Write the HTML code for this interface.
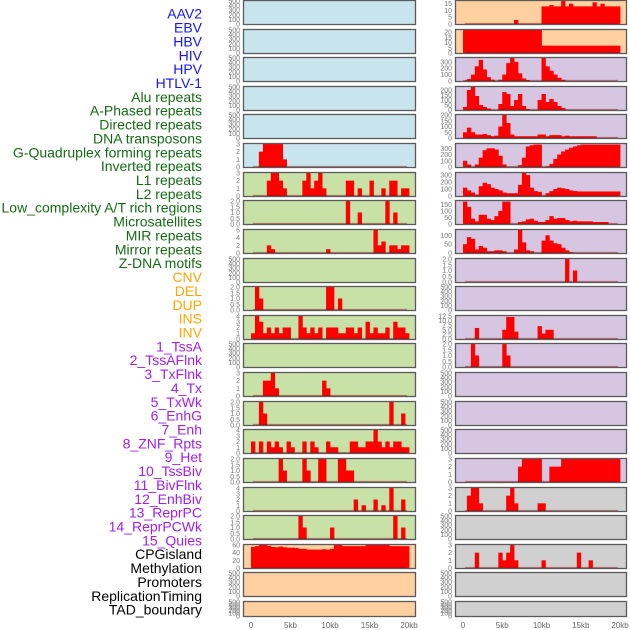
<!DOCTYPE html>
<html><head><meta charset="utf-8"><style>
html,body{margin:0;padding:0;background:#fff;}
svg{display:block;font-family:"Liberation Sans",sans-serif;}
</style></head><body>
<svg id="chart" width="630" height="630" viewBox="0 0 630 630"></svg>
<script>
const labels=["AAV2","EBV","HBV","HIV","HPV","HTLV-1","Alu repeats","A-Phased repeats","Directed repeats","DNA transposons","G-Quadruplex forming repeats","Inverted repeats","L1 repeats","L2 repeats","Low_complexity A/T rich regions","Microsatellites","MIR repeats","Mirror repeats","Z-DNA motifs","CNV","DEL","DUP","INS","INV","1_TssA","2_TssAFlnk","3_TxFlnk","4_Tx","5_TxWk","6_EnhG","7_Enh","8_ZNF_Rpts","9_Het","10_TssBiv","11_BivFlnk","12_EnhBiv","13_ReprPC","14_ReprPCWk","15_Quies","CPGisland","Methylation","Promoters","ReplicationTiming","TAD_boundary"];
const labelGroups=["virus","virus","virus","virus","virus","virus","rep","rep","rep","rep","rep","rep","rep","rep","rep","rep","rep","rep","rep","sv","sv","sv","sv","sv","hmm","hmm","hmm","hmm","hmm","hmm","hmm","hmm","hmm","hmm","hmm","hmm","hmm","hmm","hmm","oth","oth","oth","oth","oth"];
const xTickLabels=["0","5kb","10kb","15kb","20kb"];
const xTickKb=[0,5,10,15,20];
// left column data (40 bins of 500bp)
const L5=[0,0,2,3,3,3,3,3,1,0, 0,0,0,0,0,0,0,0,0,0, 0,0,0,0,0,0,0,0,0,0, 0,0,0,0,0,0,0,0,0,0];
const L6=[0,0,0,0,2,3,3,2,1,0, 0,0,0,2,3,1,2,3,1,0, 0,0,0,0,2,2,0,1,0,0, 2,0,0,1,0,2,2,0,1,1];
const L7=[0,0,0,0,0,0,0,0,0,0, 0,0,0,0,0,0,0,0,0,0, 0,0,0,0,2,0,0,1,0,0, 0,0,0,0,2,0,1,0,0,0];
const L8=[0,0,0,0,2,1,0,0,0,0, 0,0,0,0,0,0,0,0,0,1, 0,0,0,0,0,0,0,0,0,0, 0,6,2,3,0,2,2,1,2,2];
const L10=[0,2,1,0,0,0,0,0,0,0, 0,0,0,0,0,0,0,0,0,2, 2,0,1,0,0,0,0,0,0,0, 0,0,0,0,0,0,0,0,0,0];
const L11=[1,4,3,1,2,1,2,1,2,2, 0,0,4,2,1,2,1,2,0,2, 2,2,1,1,2,2,1,2,0,3, 1,2,1,1,2,0,3,2,2,1];
const L13=[0,0,0,2,2,3,1,0,0,0, 0,0,0,0,0,0,0,0,2,1, 0,0,0,0,0,0,0,0,0,0, 0,0,0,0,0,0,0,0,0,0];
const L14=[0,0,2,1,0,0,0,0,0,0, 0,0,0,0,0,0,0,0,0,0, 0,0,0,0,0,0,0,0,0,0, 0,0,0,0,0,2,0,0,1,0];
const L15=[2,0,2,0,2,1,2,1,0,2, 1,0,0,2,0,2,1,0,0,2, 1,1,0,0,0,2,2,1,1,2, 2,4,2,1,2,1,2,2,1,1];
const L16=[0,0,0,0,0,0,0,2,1,0, 0,0,0,2,1,0,0,2,2,0, 0,0,2,2,1,1,0,0,0,0, 0,0,0,0,0,0,0,0,0,0];
const L17=[0,0,0,0,0,0,0,0,0,0, 0,0,0,0,0,0,0,0,0,0, 0,0,0,0,0,0,2,0,1,0, 0,2,0,1,0,4,0,0,2,0];
const L18=[0,0,0,0,0,0,0,0,0,0, 0,0,2,1,0,0,0,0,0,0, 1,0,0,0,0,0,0,0,0,0, 0,0,0,0,0,0,2,0,1,0];
const L19=[55,57,60,60,58,55,54,56,54,53, 53,52,50,50,48,48,48,48,49,48, 50,60,60,57,57,57,57,57,57,60, 60,60,60,60,60,57,57,57,57,57];
// right column data
const R0=[0,0,0,0,0,0,0,0,0,0, 0,0,0,3,0,0,0,0,0,0, 13,13,14,13,13,17,13,15,13,13, 13,13,13,16,13,15,13,13,13,13];
const R1=[22,22,22,22,22,22,22,22,22,22, 22,22,22,22,22,22,22,22,22,22, 7,7,7,7,7,7,7,7,7,7, 7,7,7,7,7,7,7,7,7,7];
const R2=[10,30,100,230,330,180,60,20,0,20, 100,280,360,300,120,40,15,0,0,0, 360,230,160,100,50,20,0,0,0,0, 0,0,0,0,0,0,0,0,0,0];
const R3=[30,200,230,140,50,30,15,0,0,60, 180,160,40,100,160,40,10,0,0,100, 160,80,110,80,40,20,0,0,0,0, 0,0,0,0,0,0,0,0,0,0];
const R4=[50,90,50,30,30,35,25,15,20,100, 200,130,30,15,15,15,15,15,15,30, 30,15,25,25,25,15,20,15,15,15, 15,15,15,15,0,0,0,0,0,0];
const R5=[100,40,0,40,150,270,300,300,280,180, 40,0,0,0,30,150,330,350,360,360, 0,10,50,130,200,250,280,310,330,350, 360,360,360,360,360,360,360,360,360,360];
const R6=[120,80,50,20,140,190,170,120,100,80, 50,40,40,40,160,330,300,120,70,60, 5,40,70,100,120,110,100,80,70,65, 65,65,65,65,65,65,65,65,65,65];
const R7=[170,130,40,20,70,70,40,30,60,100, 170,170,0,0,15,20,35,40,25,15, 15,30,60,40,45,45,30,20,25,20, 20,20,20,15,15,15,15,0,0,0];
const R8=[50,90,80,20,40,30,10,10,15,15, 10,0,0,20,130,60,15,10,0,0, 70,100,70,55,50,30,15,5,0,0, 0,0,0,0,0,0,0,0,0,0];
const R9=[0,0,0,0,0,0,0,0,0,0, 0,0,0,0,0,0,0,0,0,0, 0,0,0,0,0,0,2,0,1,0, 0,0,0,0,0,0,0,0,0,0];
const R11=[0,0,0,6,0,0,0,0,0,0, 5,12,12,4,0,0,0,0,0,7, 3,5,5,0,0,0,0,0,0,0, 0,0,0,0,0,0,0,0,0,0];
const R12=[0,0,2,1,0,0,0,0,0,0, 2,1,0,0,0,0,0,0,0,0, 0,0,0,0,0,0,0,0,0,0, 0,0,0,0,0,0,0,0,0,0];
const R16=[0,0,0,0,0,0,0,0,0,0, 0,0,0,0,2,3,3,3,3,3, 0,0,2,2,2,3,3,3,3,3, 3,3,3,3,3,3,3,3,3,3];
const R17=[0,2,3,3,1,0,0,0,0,0, 0,2,3,1,0,0,0,0,0,1, 1,0,0,0,0,0,0,0,0,0, 0,0,0,0,0,0,0,0,0,0];
const R19=[0,0,0,2,0,0,0,0,0,2, 1,2,3,1,0,0,0,0,0,0, 1,0,0,0,0,0,0,0,0,2, 0,0,1,0,0,0,0,0,0,0];
const T500=[0,100,200,300,400,500], T3=[0,1,2,3], T2=[0,0.5,1,1.5,2], T4=[0,1,2,3,4];
const leftPanels=[
 {bg:"blue",max:500,ticks:T500},{bg:"blue",max:500,ticks:T500},{bg:"blue",max:500,ticks:T500},{bg:"blue",max:500,ticks:T500},{bg:"blue",max:500,ticks:T500},
 {bg:"blue",max:3,ticks:T3,d:L5},
 {bg:"green",max:3,ticks:T3,d:L6},{bg:"green",max:2,ticks:T2,d:L7},{bg:"green",max:6,ticks:[0,2,4,6],d:L8},
 {bg:"green",max:500,ticks:T500},{bg:"green",max:2,ticks:T2,d:L10},{bg:"green",max:4,ticks:T4,d:L11},
 {bg:"green",max:500,ticks:T500},{bg:"green",max:3,ticks:T3,d:L13},{bg:"green",max:2,ticks:T2,d:L14},
 {bg:"green",max:4,ticks:T4,d:L15},{bg:"green",max:2,ticks:T2,d:L16},{bg:"green",max:4,ticks:T4,d:L17},
 {bg:"green",max:2,ticks:T2,d:L18},{bg:"orange",max:60,ticks:[0,20,40,60],d:L19},
 {bg:"orange",max:500,ticks:T500},{bg:"orange",max:500,ticks:T500}];
const rightPanels=[
 {bg:"orange",max:17,ticks:[0,5,10,15],d:R0},{bg:"orange",max:22,ticks:[0,5,10,15,20],d:R1},
 {bg:"purple",max:360,ticks:[0,100,200,300],d:R2},{bg:"purple",max:230,ticks:[0,50,100,150,200],d:R3},
 {bg:"purple",max:200,ticks:[0,50,100,150,200],d:R4},{bg:"purple",max:370,ticks:[0,100,200,300],d:R5},
 {bg:"purple",max:330,ticks:[0,100,200,300],d:R6},{bg:"purple",max:175,ticks:[0,50,100,150],d:R7},
 {bg:"purple",max:130,ticks:[0,50,100],d:R8},{bg:"purple",max:2,ticks:T2,d:R9},
 {bg:"purple",max:500,ticks:T500},{bg:"purple",max:12.5,ticks:[0,2.5,5,7.5,10,12.5],d:R11},
 {bg:"purple",max:2,ticks:T2,d:R12},{bg:"purple",max:500,ticks:T500},{bg:"purple",max:500,ticks:T500},
 {bg:"purple",max:500,ticks:T500},{bg:"purple",max:3,ticks:T3,d:R16},{bg:"grey",max:3,ticks:T3,d:R17},
 {bg:"grey",max:500,ticks:T500},{bg:"grey",max:3,ticks:T3,d:R19},{bg:"grey",max:500,ticks:T500},{bg:"grey",max:500,ticks:T500}];

const NS="http://www.w3.org/2000/svg";
const svg=document.getElementById("chart");
const BG={blue:"#c8e4ec",green:"#c8e1a6",orange:"#ffd0a0",purple:"#d6c6e2",grey:"#d0d0d0"};
const LC={virus:"#1515ff",rep:"#156b15",sv:"#ffa500",hmm:"#a020f0",oth:"#000"};
function mk(tag,attrs,parent){const e=document.createElementNS(NS,tag);for(const k in attrs)e.setAttribute(k,attrs[k]);(parent||svg).appendChild(e);return e;}

// labels
labels.forEach((t,k)=>{
  const e=mk("text",{x:202,y:15+k*13.86,"text-anchor":"end","dominant-baseline":"middle","font-size":"14",fill:LC[labelGroups[k]]});
  e.textContent=t;
  
  
});

const cols=[{px:243,pw:173,x0:251,x1:409,panels:leftPanels,name:'left'},{px:455,pw:172,x0:463,x1:620,panels:rightPanels,name:'right'}];
cols.forEach(c=>{
  const xs=kb=>c.x0+(c.x1-c.x0)*kb/20;
  c.panels.forEach((p,i)=>{
    const top=Math.round(28.62*i), h=(i===21)?16:25;
    const g=mk("g",{});
    
    
    mk("rect",{x:c.px,y:top,width:c.pw,height:h,fill:BG[p.bg]},g);
    const ys=v=>top+1+(1-v/p.max)*(h-2);
    if(p.d){
      const bw=(c.x1-c.x0)/p.d.length;
      p.d.forEach((v,b)=>{
        if(v<=0)return;
        const r=mk("rect",{x:xs(b*0.5),y:ys(v),width:bw+0.4,height:ys(0)-ys(v),fill:"#ff0000"},g);
        
        
      });
      mk("line",{x1:c.x0+2,x2:c.x1-2,y1:ys(0)-0.5,y2:ys(0)-0.5,stroke:"rgba(150,0,0,0.45)","stroke-width":1.2},g);
    }
    mk("rect",{x:c.px+0.5,y:top+0.5,width:c.pw-1,height:h-1,fill:"none",stroke:"#5a5a5a","stroke-width":1.3},g);
    p.ticks.forEach(t=>{
      const lab=p.max===2||p.max===12.5?t.toFixed(1):String(t);
      const e=mk("text",{x:c.px-3,y:ys(t)+2.5,"text-anchor":"end","font-size":"7",fill:"#777"},g);
      e.textContent=lab;
      
      
    });
  });
  xTickKb.forEach((kb,j)=>{
    const e=mk("text",{x:xs(kb),y:628,"text-anchor":"middle","font-size":"8",fill:"#666"});
    e.textContent=xTickLabels[j];
    
    
  });
});
</script>
</body></html>
